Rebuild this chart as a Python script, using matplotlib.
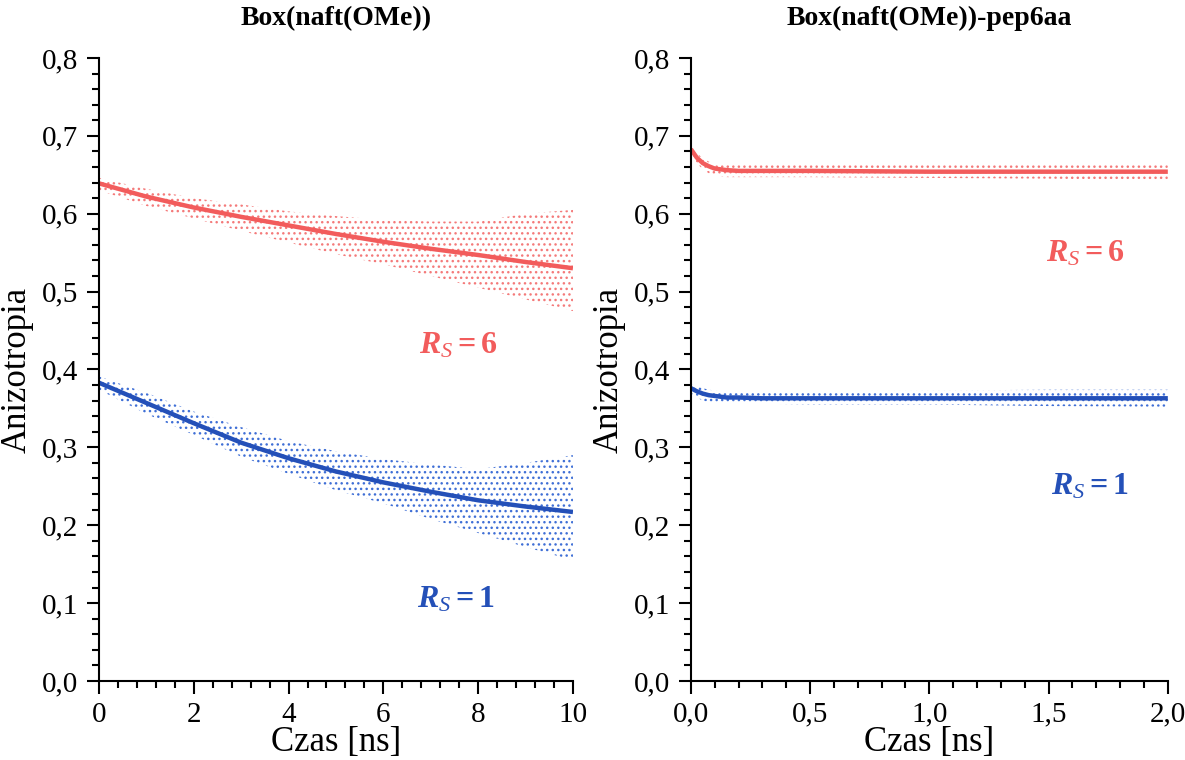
import numpy as np
import matplotlib.pyplot as plt
from matplotlib.ticker import MultipleLocator, FuncFormatter

plt.rcParams['font.family'] = 'Liberation Serif'
plt.rcParams['mathtext.fontset'] = 'custom'
plt.rcParams['mathtext.rm'] = 'Liberation Serif'
plt.rcParams['mathtext.it'] = 'Liberation Serif:italic'
plt.rcParams['mathtext.bf'] = 'Liberation Serif:bold'
plt.rcParams['mathtext.bfit'] = 'Liberation Serif:bold:italic'
plt.rcParams['hatch.linewidth'] = 1.0

RED = '#f25c5c'
RED_DOT = '#f47a7a'
BLUE = '#2450b8'
BLUE_DOT = '#3f6fd6'

# left panel: Box(naft(OMe)), time in ns
t_left = [0, 1, 2, 3, 4, 5, 6, 7, 8, 9, 10]
fit_red_left = [0.639, 0.622, 0.608, 0.596, 0.585, 0.574, 0.564, 0.555, 0.547, 0.538, 0.530]
fit_blue_left = [0.383, 0.357, 0.331, 0.306, 0.286, 0.269, 0.255, 0.243, 0.232, 0.224, 0.217]
# spread of the measured points (lower, upper edge)
red_lo_left = [0.630, 0.610, 0.594, 0.578, 0.563, 0.548, 0.535, 0.520, 0.505, 0.490, 0.475]
red_hi_left = [0.646, 0.632, 0.620, 0.612, 0.603, 0.597, 0.592, 0.590, 0.590, 0.600, 0.605]
blue_lo_left = [0.374, 0.343, 0.316, 0.288, 0.266, 0.245, 0.228, 0.208, 0.190, 0.172, 0.155]
blue_hi_left = [0.391, 0.370, 0.346, 0.326, 0.308, 0.295, 0.285, 0.278, 0.272, 0.280, 0.290]

# right panel: Box(naft(OMe))-pep6aa
t_right = [0.0, 0.025, 0.05, 0.075, 0.1, 0.15, 0.2, 0.3, 0.5, 1.0, 1.5, 2.0]
fit_red_right = [0.683, 0.672, 0.665, 0.661, 0.658, 0.656, 0.655, 0.655, 0.655, 0.654, 0.654, 0.654]
fit_blue_right = [0.376, 0.372, 0.369, 0.367, 0.366, 0.364, 0.364, 0.363, 0.363, 0.363, 0.363, 0.363]
red_lo_right = [0.678, 0.665, 0.657, 0.652, 0.649, 0.647, 0.647, 0.647, 0.647, 0.646, 0.645, 0.643]
red_hi_right = [0.688, 0.678, 0.671, 0.667, 0.664, 0.663, 0.663, 0.663, 0.663, 0.663, 0.664, 0.664]
blue_lo_right = [0.370, 0.364, 0.360, 0.358, 0.357, 0.356, 0.356, 0.356, 0.355, 0.355, 0.353, 0.352]
blue_hi_right = [0.381, 0.379, 0.376, 0.374, 0.373, 0.372, 0.372, 0.372, 0.372, 0.373, 0.374, 0.374]

fig = plt.figure(figsize=(11.85, 7.6), dpi=100)
ax1 = fig.add_axes([0.0835, 0.104, 0.4, 0.8197])
ax2 = fig.add_axes([0.583, 0.104, 0.4025, 0.8197])

comma = lambda nd: FuncFormatter(lambda v, p: f'{v:.{nd}f}'.replace('.', ','))


def panel(ax, t, fits, los, his, title, xmax, xmajor, xminor, xfmt):
    for fit, lo, hi, c, cd in zip(fits, los, his, [RED, BLUE], [RED_DOT, BLUE_DOT]):
        ax.fill_between(t, lo, hi, facecolor='none', edgecolor=cd,
                        hatch='...', linewidth=0)
        ax.plot(t, fit, color=c, lw=3.2, solid_capstyle='butt')
    ax.set_xlim(0, xmax)
    ax.set_ylim(0, 0.8)
    ax.xaxis.set_major_locator(MultipleLocator(xmajor))
    ax.xaxis.set_minor_locator(MultipleLocator(xminor))
    ax.yaxis.set_major_locator(MultipleLocator(0.1))
    ax.yaxis.set_minor_locator(MultipleLocator(0.02))
    ax.xaxis.set_major_formatter(xfmt)
    ax.yaxis.set_major_formatter(comma(1))
    for s in ['top', 'right']:
        ax.spines[s].set_visible(False)
    for s in ['left', 'bottom']:
        ax.spines[s].set_linewidth(1.5)
    ax.tick_params(which='major', direction='out', length=9, width=1.5, labelsize=21, pad=6)
    ax.tick_params(which='minor', direction='out', length=5, width=1.5)
    ax.set_xlabel('Czas [ns]', fontsize=25, labelpad=-1)
    ax.set_ylabel('Anizotropia', fontsize=25, labelpad=6)
    ax.set_title(title, fontsize=20, fontweight='bold', pad=24)


panel(ax1, t_left, [fit_red_left, fit_blue_left], [red_lo_left, blue_lo_left],
      [red_hi_left, blue_hi_left], 'Box(naft(OMe))', 10, 2, 0.4,
      FuncFormatter(lambda v, p: f'{v:.0f}'))
panel(ax2, t_right, [fit_red_right, fit_blue_right], [red_lo_right, blue_lo_right],
      [red_hi_right, blue_hi_right], 'Box(naft(OMe))-pep6aa', 2.0, 0.5, 0.1, comma(1))

lab6 = r'$\mathbfit{R}_{\mathit{S}}\mathbf{= 6}$'
lab1 = r'$\mathbfit{R}_{\mathit{S}}\mathbf{= 1}$'
ax1.text(6.75, 0.431, lab6, color=RED, fontsize=23, va='center')
ax1.text(6.7, 0.104, lab1, color=BLUE, fontsize=23, va='center')
ax2.text(1.49, 0.549, lab6, color=RED, fontsize=23, va='center')
ax2.text(1.51, 0.249, lab1, color=BLUE, fontsize=23, va='center')

fig.savefig('out.png', dpi=100)
